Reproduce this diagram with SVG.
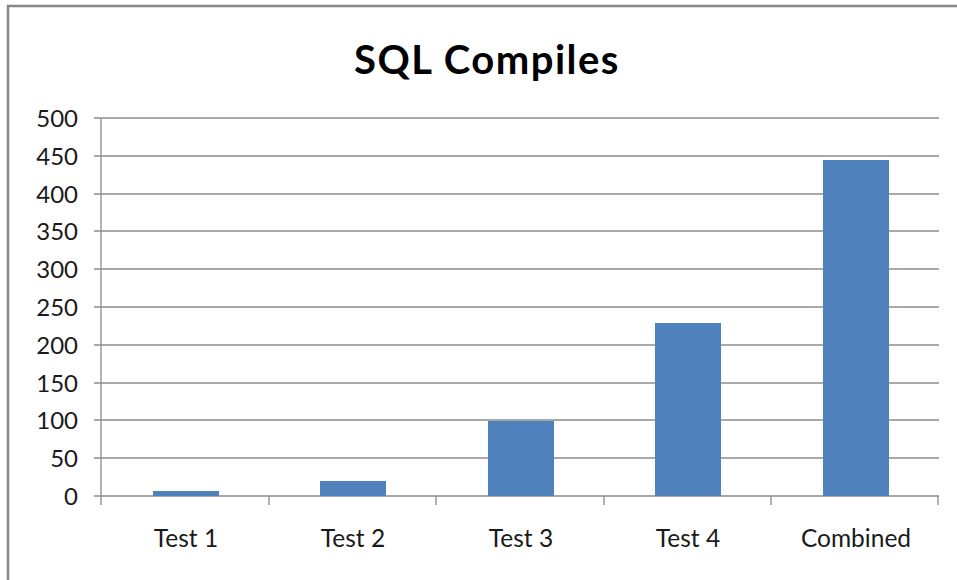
<svg xmlns="http://www.w3.org/2000/svg" width="957" height="580" viewBox="0 0 957 580">
<style>
.grid{stroke:#8c8c8c;stroke-width:1.3;fill:none}
.bar{fill:#4f81bd}
.yl{font-family:Lato,"Open Sans",sans-serif;font-size:24px;fill:#1a1a1a;text-anchor:end}
.xl{font-family:Lato,"Open Sans",sans-serif;font-size:24.5px;fill:#1a1a1a;text-anchor:middle}
.title{font-family:Lato,"Open Sans",sans-serif;font-size:40px;font-weight:bold;letter-spacing:1.5px;fill:#000;text-anchor:middle}
</style>
<rect x="0" y="0" width="957" height="580" fill="#fff"/>
<rect x="8" y="6" width="960" height="590" fill="#fff" stroke="#888" stroke-width="2.5"/>
<text class="title" x="487" y="74">SQL Compiles</text>
<g id="gridlines">
<path class="grid" d="M94 118H939M94 156H939M94 194H939M94 231H939M94 269H939M94 307H939M94 345H939M94 383H939M94 420H939M94 458H939M94 496H939"/>
<path class="grid" d="M101 118V505M269 496V505M436 496V505M604 496V505M771 496V505M938 496V505"/>
</g>
<g id="yaxis">
<text class="yl" x="78" y="127">500</text>
<text class="yl" x="78" y="165">450</text>
<text class="yl" x="78" y="203">400</text>
<text class="yl" x="78" y="240">350</text>
<text class="yl" x="78" y="278">300</text>
<text class="yl" x="78" y="316">250</text>
<text class="yl" x="78" y="354">200</text>
<text class="yl" x="78" y="392">150</text>
<text class="yl" x="78" y="429">100</text>
<text class="yl" x="78" y="467">50</text>
<text class="yl" x="78" y="505">0</text>
</g>
<g id="bar-test1"><rect class="bar" x="153" y="491" width="66" height="5"/><text class="xl" x="186" y="547">Test 1</text></g>
<g id="bar-test2"><rect class="bar" x="320" y="481" width="66" height="15"/><text class="xl" x="353" y="547">Test 2</text></g>
<g id="bar-test3"><rect class="bar" x="488" y="421" width="66" height="75"/><text class="xl" x="521" y="547">Test 3</text></g>
<g id="bar-test4"><rect class="bar" x="655" y="323" width="66" height="173"/><text class="xl" x="688" y="547">Test 4</text></g>
<g id="bar-combined"><rect class="bar" x="823" y="160" width="66" height="336"/><text class="xl" x="856" y="547">Combined</text></g>
</svg>
